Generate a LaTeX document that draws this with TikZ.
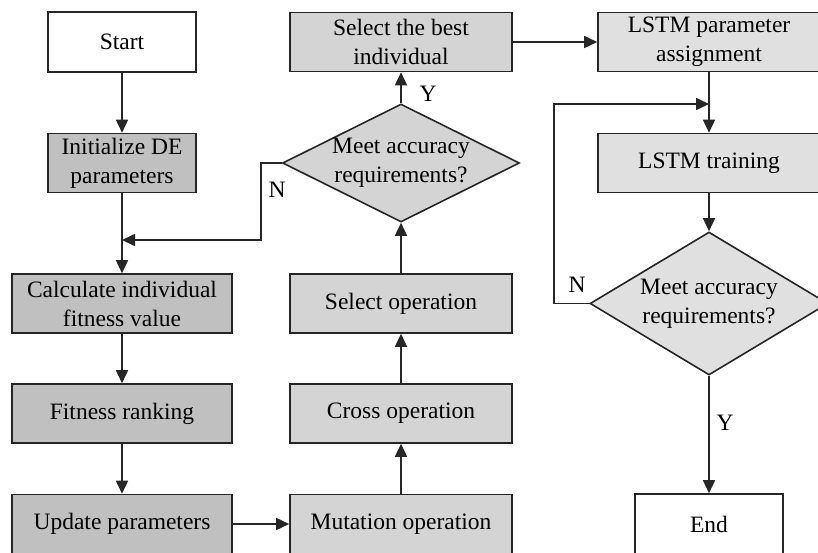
\documentclass[tikz,border=0pt]{standalone}
\usepackage{fontspec}
\setmainfont{Liberation Serif}
\usepackage{xcolor}
\usepackage{tikz}
\usetikzlibrary{positioning,calc,shapes.geometric,arrows.meta}
\definecolor{grayA}{RGB}{192,192,192}
\definecolor{grayB}{RGB}{212,212,212}
\definecolor{grayC}{RGB}{224,224,224}

\begin{document}
\begin{tikzpicture}[
					x=1pt, y=-1pt,
					font=\fontsize{23.5}{29}\selectfont,
					% Plain box (start / end)
					tbox/.style={
						rectangle, draw=black!85, line width=1.6pt, fill=white,
						minimum width=148pt, minimum height=60pt, inner sep=0pt, align=center
					},
					% DE boxes (darker grey)
					debox/.style={
						rectangle, draw=black!85, line width=1.6pt, fill=grayA,
						minimum width=220pt, minimum height=59pt, inner sep=0pt, align=center
					},
					% Operation boxes (middle grey)
					opbox/.style={debox, fill=grayB, minimum width=222pt},
					% LSTM boxes (light grey)
					lbox/.style={debox, fill=grayC, minimum width=222pt},
					% Decision
					dnode/.style={
						diamond, draw=black!85, line width=1.6pt, fill=grayB,
						minimum width=237pt, minimum height=118pt, inner sep=0pt
					},
					dtext/.style={align=center, inner sep=0pt},
					arr/.style={draw=black!85, line width=1.6pt, -{Triangle[length=13pt,width=12pt]}},
					yn/.style={inner sep=0pt}
					]
					
					\useasboundingbox (0,0) rectangle (818,552);
					
					% --- 1. DE COLUMN ---
					\node[tbox] (start) at (122,42) {Start};
					\node[debox, minimum width=148pt] (init) at (122,163) {Initialize DE\\parameters};
					\node[debox] (calc) at (122,303.5) {Calculate individual\\fitness value};
					\node[debox] (rank) at (122,413.5) {Fitness ranking};
					\node[debox] (upd) at (122,524) {Update parameters};
					
					% --- 2. OPERATION COLUMN ---
					\node[opbox] (best) at (401,42) {Select the best\\individual};
					\node[dnode, label={[dtext]center:Meet accuracy\\requirements?}] (chk1) at (401,163) {};
					\node[opbox] (sel) at (401,303.5) {Select operation};
					\node[opbox] (cross) at (401,413.5) {Cross operation};
					\node[opbox] (mut) at (401,524) {Mutation operation};
					
					% --- 3. LSTM COLUMN ---
					\node[lbox] (assign) at (709,42) {LSTM parameter\\assignment};
					\node[lbox] (train) at (709,163) {LSTM training};
					\node[dnode, fill=grayC, minimum width=238pt, minimum height=143pt,
					label={[dtext]center:Meet accuracy\\requirements?}] (chk2) at (709,303.5) {};
					\node[tbox] (fin) at (709,524) {End};
					
					% bend points of the two loops
					\coordinate (nbend) at (261,240);
					\coordinate (lbend) at (554,104);
					
					% --- 4. CONNECTORS ---
					\draw[arr] (start) -- (init);
					\draw[arr] (init) -- (calc);
					\draw[arr] (calc) -- (rank);
					\draw[arr] (rank) -- (upd);
					\draw[arr] (upd) -- (mut);
					\draw[arr] (mut) -- (cross);
					\draw[arr] (cross) -- (sel);
					\draw[arr] (sel) -- (chk1);
					\draw[arr] (chk1) -- (best);
					\draw[arr] (chk1.west) -| (nbend) -- (nbend -| init.south);
					\draw[arr] (best) -- (assign);
					\draw[arr] (assign) -- (train);
					\draw[arr] (train) -- (chk2);
					\draw[arr] (chk2) -- (fin);
					\draw[arr] (chk2.west) -| (lbend) -- (lbend -| train.north);
					
					% Y / N marks
					\node[yn] (y1) at (428,94) {Y};
					\node[yn] (n1) at (277,190) {N};
					\node[yn] (n2) at (577,285) {N};
					\node[yn] (y2) at (725,423) {Y};
				\end{tikzpicture}
\end{document}
